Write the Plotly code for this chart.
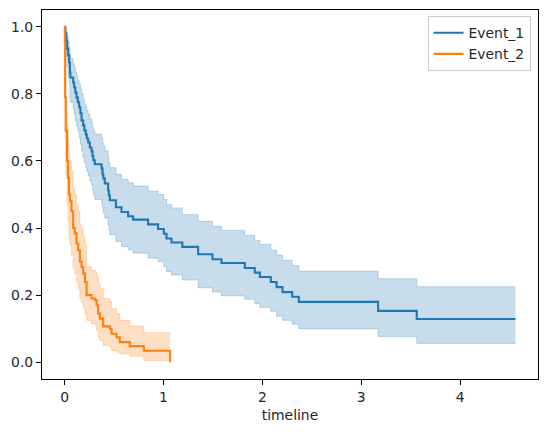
import plotly.graph_objects as go

# Kaplan-Meier estimates
# Event_1
times_1 = [0.0, 0.008, 0.018, 0.026, 0.036, 0.047, 0.054, 0.059, 0.087, 0.097,
           0.109, 0.121, 0.134, 0.148, 0.160, 0.172, 0.188, 0.200, 0.215, 0.225,
           0.239, 0.256, 0.273, 0.283, 0.291, 0.306, 0.374, 0.384, 0.392, 0.407,
           0.441, 0.448, 0.458, 0.519, 0.576, 0.643, 0.694, 0.845, 0.946, 1.004,
           1.031, 1.082, 1.191, 1.351, 1.496, 1.587, 1.823, 1.924, 1.975, 2.086,
           2.144, 2.204, 2.302, 2.369, 3.171, 3.562]
surv_1 = [1.0, 0.980, 0.959, 0.935, 0.915, 0.894, 0.864, 0.849, 0.834, 0.819,
          0.804, 0.789, 0.775, 0.760, 0.742, 0.721, 0.706, 0.691, 0.679, 0.667,
          0.655, 0.640, 0.629, 0.614, 0.602, 0.590, 0.578, 0.560, 0.548, 0.533,
          0.512, 0.497, 0.483, 0.462, 0.448, 0.435, 0.425, 0.411, 0.397, 0.383,
          0.369, 0.357, 0.344, 0.322, 0.307, 0.296, 0.281, 0.267, 0.254, 0.239,
          0.224, 0.209, 0.195, 0.180, 0.153, 0.129]
lower_1 = [1.0, 0.94, 0.91, 0.88, 0.85, 0.83, 0.79, 0.775, 0.755, 0.74,
           0.72, 0.705, 0.69, 0.67, 0.65, 0.63, 0.61, 0.595, 0.58, 0.57,
           0.555, 0.54, 0.53, 0.515, 0.50, 0.485, 0.475, 0.46, 0.445, 0.43,
           0.41, 0.395, 0.38, 0.36, 0.345, 0.335, 0.325, 0.31, 0.30, 0.285,
           0.27, 0.26, 0.245, 0.222, 0.209, 0.198, 0.188, 0.175, 0.163, 0.152,
           0.137, 0.125, 0.113, 0.100, 0.077, 0.056]
upper_1 = [1.0, 0.995, 0.985, 0.97, 0.955, 0.94, 0.92, 0.905, 0.89, 0.88,
           0.865, 0.855, 0.84, 0.83, 0.815, 0.80, 0.785, 0.77, 0.76, 0.75,
           0.74, 0.725, 0.715, 0.70, 0.69, 0.68, 0.67, 0.655, 0.645, 0.63,
           0.61, 0.595, 0.58, 0.56, 0.545, 0.535, 0.525, 0.51, 0.50, 0.485,
           0.47, 0.46, 0.44, 0.420, 0.405, 0.393, 0.378, 0.363, 0.351, 0.334,
           0.319, 0.304, 0.288, 0.271, 0.249, 0.225]
end_1 = 4.56

# Event_2
times_2 = [0.0, 0.003, 0.006, 0.012, 0.025, 0.035, 0.045, 0.055, 0.07, 0.087,
           0.104, 0.121, 0.138, 0.155, 0.172, 0.189, 0.206, 0.223, 0.273, 0.307,
           0.324, 0.340, 0.357, 0.391, 0.458, 0.475, 0.526, 0.559, 0.660, 0.802,
           1.068]
surv_2 = [1.0, 0.95, 0.79, 0.69, 0.60, 0.55, 0.50, 0.48, 0.45, 0.40,
          0.384, 0.354, 0.334, 0.30, 0.284, 0.265, 0.239, 0.200, 0.190, 0.185,
          0.170, 0.145, 0.130, 0.107, 0.100, 0.085, 0.074, 0.060, 0.048, 0.034,
          0.0]
lower_2 = [1.0, 0.86, 0.67, 0.56, 0.47, 0.42, 0.37, 0.35, 0.32, 0.28,
           0.265, 0.24, 0.22, 0.19, 0.18, 0.165, 0.145, 0.125, 0.115, 0.11,
           0.095, 0.075, 0.065, 0.05, 0.045, 0.035, 0.03, 0.025, 0.018, 0.005]
upper_2 = [1.0, 0.98, 0.87, 0.79, 0.71, 0.67, 0.62, 0.60, 0.57, 0.52,
           0.50, 0.47, 0.45, 0.41, 0.40, 0.375, 0.35, 0.285, 0.275, 0.27,
           0.255, 0.235, 0.22, 0.19, 0.18, 0.16, 0.145, 0.125, 0.107, 0.088]

x_ticks = [0, 1, 2, 3, 4]
y_ticks = [0.0, 0.2, 0.4, 0.6, 0.8, 1.0]

BLUE = "#1f77b4"
ORANGE = "#ff7f0e"

fig = go.Figure()


def add_band(x, lo, hi, rgb):
    edge = f"rgba({rgb},0.25)"
    fig.add_trace(go.Scatter(x=x, y=lo, mode="lines", line=dict(color=edge, width=1, shape="hv"),
                             showlegend=False, hoverinfo="skip"))
    fig.add_trace(go.Scatter(x=x, y=hi, mode="lines", line=dict(color=edge, width=1, shape="hv"),
                             fill="tonexty", fillcolor=edge, showlegend=False, hoverinfo="skip"))


# confidence bands (steps-post), band stops where the last step happens
add_band(times_1 + [end_1], lower_1 + [lower_1[-1]], upper_1 + [upper_1[-1]], "31,119,180")
add_band(times_2, lower_2 + [lower_2[-1]], upper_2 + [upper_2[-1]], "255,127,14")

fig.add_trace(go.Scatter(x=times_1 + [end_1], y=surv_1 + [surv_1[-1]], mode="lines",
                         name="Event_1", line=dict(color=BLUE, width=2.1, shape="hv")))
fig.add_trace(go.Scatter(x=times_2, y=surv_2, mode="lines",
                         name="Event_2", line=dict(color=ORANGE, width=2.1, shape="hv")))

axis_style = dict(showgrid=False, zeroline=False, showline=True, linecolor="black", linewidth=1.1,
                  mirror=True, ticks="outside", ticklen=5, tickwidth=1.1, tickcolor="black",
                  automargin=False,
                  tickfont=dict(family="DejaVu Sans", size=13.9, color="#262626"))

fig.update_xaxes(range=[-0.228, 4.788], tickvals=x_ticks,
                 title=dict(text="timeline", font=dict(family="DejaVu Sans", size=13.9, color="#262626"),
                            standoff=6),
                 **axis_style)
fig.update_yaxes(range=[-0.05, 1.05], tickvals=y_ticks, tickformat=".1f", **axis_style)

# the page body adds an 8px offset, so the figure is a little smaller than the window
fig.update_layout(
    width=539, height=424,
    margin=dict(l=34, r=9, t=2, b=53),
    paper_bgcolor="white", plot_bgcolor="white",
    font=dict(family="DejaVu Sans", size=13.9, color="#262626"),
    legend=dict(x=0.985, y=0.983, xanchor="right", yanchor="top", traceorder="normal",
                bgcolor="rgba(255,255,255,0.8)", bordercolor="#cccccc", borderwidth=1,
                font=dict(family="DejaVu Sans", size=13.9, color="#262626"),
                tracegroupgap=0),
)

fig.write_html("out.html")
